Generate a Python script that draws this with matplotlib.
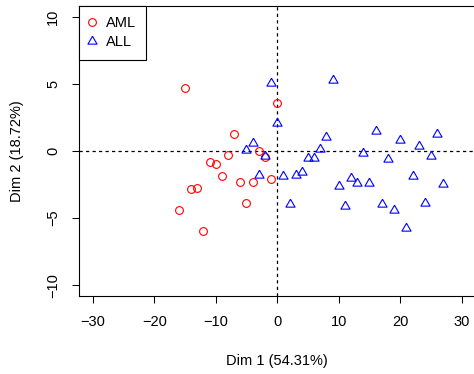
import matplotlib
matplotlib.use("Agg")
import matplotlib.pyplot as plt

plt.rcParams["font.family"] = ["Liberation Sans", "DejaVu Sans"]

# sample coordinates
aml_x = [-16, -15, -14, -13, -12, -11, -10, -9, -8, -7, -6, -5, -4, -3, -2, -1, 0]
aml_y = [-4.43, 4.70, -2.86, -2.76, -5.97, -0.82, -0.95, -1.87, -0.32, 1.27,
         -2.34, -3.86, -2.34, 0.02, -0.43, -2.10, 3.56]

all_x = [-5, -4, -3, -2, -1, 0, 1, 2, 3, 4, 5, 6, 7, 8, 9, 10, 11, 12, 13, 14,
         15, 16, 17, 18, 19, 20, 21, 22, 23, 24, 25, 26, 27]
all_y = [0.07, 0.57, -1.80, -0.35, 5.10, 2.10, -1.84, -3.98, -1.79, -1.54,
         -0.55, -0.50, 0.17, 1.07, 5.25, -2.59, -4.10, -2.04, -2.39, -0.12,
         -2.39, 1.47, -3.96, -0.62, -4.43, 0.82, -5.70, -1.87, 0.40, -3.86,
         -0.37, 1.27, -2.46]

group_names = ["AML", "ALL"]
xticks = [-30, -20, -10, 0, 10, 20, 30]
yticks = [-10, -5, 0, 5, 10]

# equilateral triangle like R's pch=2 (centroid on the point)
tri = [(0, 1), (-0.866, -0.5), (0.866, -0.5), (0, 1)]

fig = plt.figure(figsize=(4.74, 3.74), dpi=100)
ax = fig.add_axes([0.1667, 0.2086, 0.8363, 0.7754])

ax.axhline(0, color="black", lw=0.9, dashes=(2.6, 2.6), zorder=1)
ax.axvline(0, color="black", lw=0.9, dashes=(2.6, 2.6), zorder=1)

ax.plot(aml_x, aml_y, ls="none", marker="o", ms=5.6, mfc="none",
        mec="#FF0000", mew=0.8, label=group_names[0], zorder=3)
ax.plot(all_x, all_y, ls="none", marker=tri, ms=7.6, mfc="none",
        mec="#0000FF", mew=0.8, label=group_names[1], zorder=3)

ax.set_xlim(-32.23, 32.23)
ax.set_ylim(-10.8, 10.8)
ax.set_xticks(xticks)
ax.set_yticks(yticks)
ax.tick_params(direction="out", length=5.2, width=0.75, labelsize=10.5, pad=8.5)
for lab in ax.get_yticklabels():
    lab.set_rotation(90)
    lab.set_va("center")
for s in ax.spines.values():
    s.set_linewidth(0.8)

ax.set_xlabel("Dim 1 (54.31%)", fontsize=10.5)
ax.set_ylabel("Dim 2 (18.72%)", fontsize=10.5)
ax.xaxis.set_label_coords(0.5, -0.2)
ax.yaxis.set_label_coords(-0.14, 0.5)

leg = ax.legend(loc="upper left", borderaxespad=0, fontsize=10.5,
                fancybox=False, framealpha=1, edgecolor="black",
                handlelength=0.3, handletextpad=0.8, borderpad=0.72,
                labelspacing=0.32)
leg.get_frame().set_linewidth(0.8)

fig.savefig("out.png", dpi=100)
